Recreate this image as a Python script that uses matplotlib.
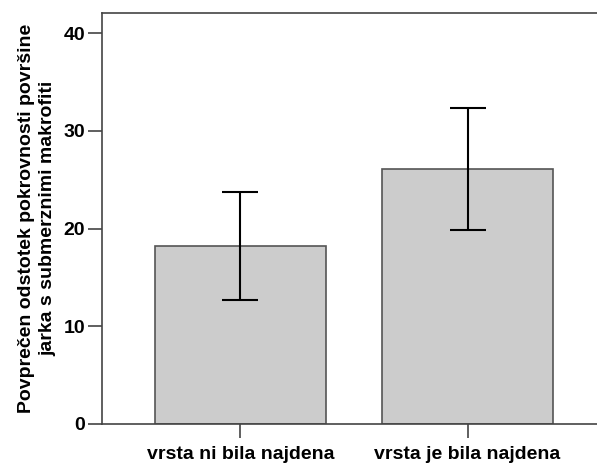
import matplotlib.pyplot as plt
import numpy as np

plt.rcParams['font.family'] = ['Liberation Sans', 'DejaVu Sans']
plt.rcParams['font.weight'] = 'bold'

categories = ['vrsta ni bila najdena', 'vrsta je bila najdena']
means = [18.2, 26.1]
ci_low = [12.7, 19.8]
ci_high = [23.7, 32.3]

fig = plt.figure(figsize=(5.97, 4.63), dpi=100)
# right side of the frame runs off the picture, as in the original
ax = fig.add_axes([102 / 597, 39 / 463, 504 / 597, 411 / 463])

x = np.arange(len(categories))
means = np.array(means)
yerr = [means - np.array(ci_low), np.array(ci_high) - means]
ax.bar(x, means, width=0.75, color='#cccccc', edgecolor='#555555', linewidth=1.2, zorder=2)
ax.errorbar(x, means, yerr=yerr, fmt='none', ecolor='black', elinewidth=1.5,
            capsize=13, capthick=1.5, zorder=3)

ax.set_xlim(-0.61, 1.61)
ax.set_ylim(0, 42.05)
ax.set_yticks([0, 10, 20, 30, 40])
ax.set_xticks(x)
ax.set_xticklabels(categories)
for s in ax.spines.values():
    s.set_color('#444444')
    s.set_linewidth(1.2)
ax.tick_params(axis='both', colors='#444444', labelcolor='black', labelsize=14,
               length=10, width=1.2)
ax.tick_params(axis='y', pad=2)
ax.tick_params(axis='x', pad=6)
for lab in ax.get_xticklabels() + ax.get_yticklabels():
    lab.set_fontweight('bold')

ax.set_ylabel('Povprečen odstotek pokrovnosti površine\njarka s submerznimi makrofiti',
              fontsize=14, fontweight='bold', labelpad=5, linespacing=1.35)

fig.savefig('out.png', dpi=100)
